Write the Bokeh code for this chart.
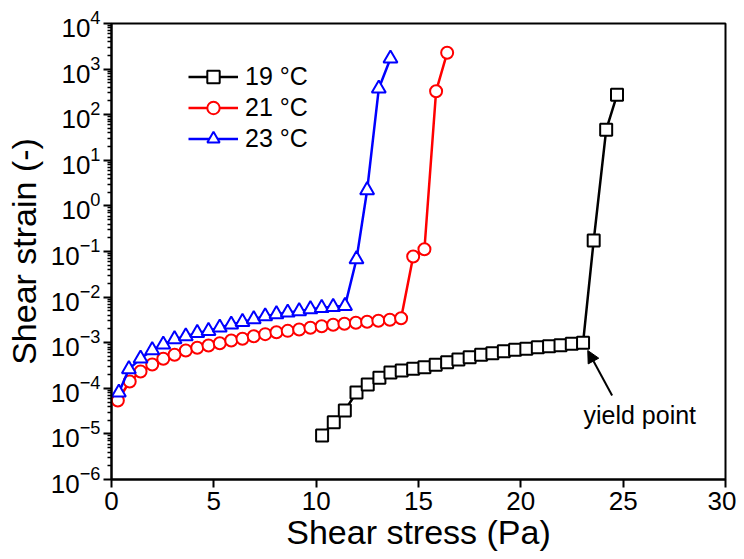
from bokeh.plotting import figure
from bokeh.models import (FixedTicker, Legend, LegendItem, Arrow, NormalHead, Label,
                          ColumnDataSource)
from bokeh.embed import file_html
from bokeh.resources import INLINE

# ---- data ----
stress_19 = [10.29, 10.86, 11.40, 11.97, 12.52, 13.09, 13.63, 14.18, 14.74, 15.29, 15.84,
             16.40, 16.95, 17.50, 18.06, 18.61, 19.17, 19.72, 20.27, 20.83, 21.38, 21.94,
             22.49, 23.04, 23.56, 24.17, 24.70]
strain_19 = [9.2e-6, 1.81e-5, 3.26e-5, 8.1e-5, 1.21e-4, 1.70e-4, 2.22e-4, 2.45e-4, 2.67e-4,
             2.90e-4, 3.27e-4, 3.74e-4, 4.29e-4, 4.81e-4, 5.43e-4, 5.89e-4, 6.52e-4, 6.98e-4,
             7.35e-4, 7.96e-4, 8.38e-4, 8.81e-4, 9.44e-4, 9.95e-4, 0.174, 46.7, 273.0]

stress_21 = [0.31, 0.89, 1.42, 1.99, 2.53, 3.08, 3.63, 4.19, 4.74, 5.29, 5.85, 6.40, 6.95,
             7.51, 8.06, 8.61, 9.17, 9.72, 10.27, 10.83, 11.38, 11.94, 12.49, 13.04, 13.60,
             14.15, 14.74, 15.29, 15.86, 16.40]
strain_21 = [5.4e-5, 1.41e-4, 2.33e-4, 3.33e-4, 4.44e-4, 5.43e-4, 6.75e-4, 7.73e-4, 8.69e-4,
             9.75e-4, 1.12e-3, 1.22e-3, 1.39e-3, 1.54e-3, 1.70e-3, 1.82e-3, 1.95e-3, 2.12e-3,
             2.30e-3, 2.47e-3, 2.60e-3, 2.73e-3, 2.87e-3, 3.02e-3, 3.18e-3, 3.44e-3, 0.0776,
             0.112, 328.0, 2275.0]

stress_23 = [0.36, 0.85, 1.42, 1.99, 2.53, 3.08, 3.63, 4.19, 4.74, 5.29, 5.85, 6.40, 6.95,
             7.51, 8.06, 8.61, 9.17, 9.72, 10.27, 10.83, 11.41, 11.97, 12.49, 13.06, 13.63]
strain_23 = [8.1e-5, 2.63e-4, 4.49e-4, 6.85e-4, 9.1e-4, 1.20e-3, 1.38e-3, 1.64e-3, 1.82e-3,
             2.15e-3, 2.50e-3, 2.86e-3, 3.28e-3, 3.81e-3, 4.22e-3, 4.58e-3, 4.91e-3, 5.43e-3,
             5.81e-3, 6.11e-3, 6.43e-3, 0.0678, 2.21, 374.0, 1702.0]

series_labels = ["19 °C", "21 °C", "23 °C"]
series_colors = ["black", "red", "blue"]
series_markers = ["square", "circle", "triangle"]

x_ticks = [0, 5, 10, 15, 20, 25, 30]
y_exponents = list(range(-6, 5))

yield_text = "yield point"
yield_tail = (24.46, 6.95e-5)
yield_head = (23.27, 6.75e-4)

FONT = "Liberation Sans"

p = figure(frame_width=614, frame_height=456, x_range=(0, 30), y_range=(1e-6, 1e4),
           y_axis_type="log", output_backend="svg", toolbar_location=None,
           min_border_left=111, min_border_top=23, min_border_right=11,
           min_border_bottom=72)

p.xgrid.visible = False
p.ygrid.visible = False
p.outline_line_color = "black"
p.outline_line_width = 2
p.background_fill_color = "white"
p.border_fill_color = "white"

# axes
p.xaxis.ticker = FixedTicker(ticks=x_ticks)
p.xaxis.minor_tick_line_color = None
major_y = [10.0 ** e for e in y_exponents]
minor_y = [m * 10.0 ** e for e in y_exponents[:-1] for m in range(2, 10)]
p.yaxis.ticker = FixedTicker(ticks=major_y, minor_ticks=minor_y)

for ax in (p.xaxis[0], p.yaxis[0]):
    ax.axis_line_width = 2
    ax.axis_line_color = "black"
    ax.major_tick_line_width = 2
    ax.minor_tick_line_width = 1.5
    ax.major_tick_out = 8
    ax.major_tick_in = 0
    ax.minor_tick_out = 4
    ax.minor_tick_in = 0
    ax.major_label_text_font = FONT
    ax.major_label_text_font_size = "26px"
    ax.major_label_text_color = "black"
    ax.axis_label_text_font = FONT
    ax.axis_label_text_font_size = "34px"
    ax.axis_label_text_font_style = "normal"
    ax.axis_label_text_color = "black"

p.xaxis.axis_label = "Shear stress (Pa)"
p.yaxis.axis_label = "Shear strain (-)"
p.xaxis.major_label_standoff = 4
p.xaxis.axis_label_standoff = 0
p.yaxis.major_label_standoff = 3
p.yaxis.axis_label_standoff = 5

# series
items = []
for xs, ys, lab, col, mk in zip([stress_19, stress_21, stress_23],
                                [strain_19, strain_21, strain_23],
                                series_labels, series_colors, series_markers):
    src = ColumnDataSource(dict(x=xs, y=ys))
    ln = p.line("x", "y", source=src, line_color=col, line_width=2.5)
    sc = p.scatter("x", "y", source=src, marker=mk, size=12 if mk != "triangle" else 14,
                   line_color=col, line_width=2, fill_color="white")
    items.append(LegendItem(label=lab, renderers=[ln, sc]))

legend = Legend(items=items, location=(77, 325), padding=0, margin=0, spacing=0,
                glyph_width=50, glyph_height=31, label_height=31, label_standoff=7,
                label_text_font=FONT, label_text_font_size="25px",
                label_text_color="black",
                border_line_color=None, background_fill_alpha=0)
p.add_layout(legend)

p.add_layout(Arrow(end=NormalHead(size=12, fill_color="black", line_color="black"),
                   x_start=yield_tail[0], y_start=yield_tail[1],
                   x_end=yield_head[0], y_end=yield_head[1],
                   line_width=2, line_color="black"))
p.add_layout(Label(x=23.06, y=5.2e-5, text=yield_text, text_font=FONT,
                   text_font_size="25px", text_baseline="top", text_color="black"))

open("out.html", "w").write(file_html(p, INLINE))
